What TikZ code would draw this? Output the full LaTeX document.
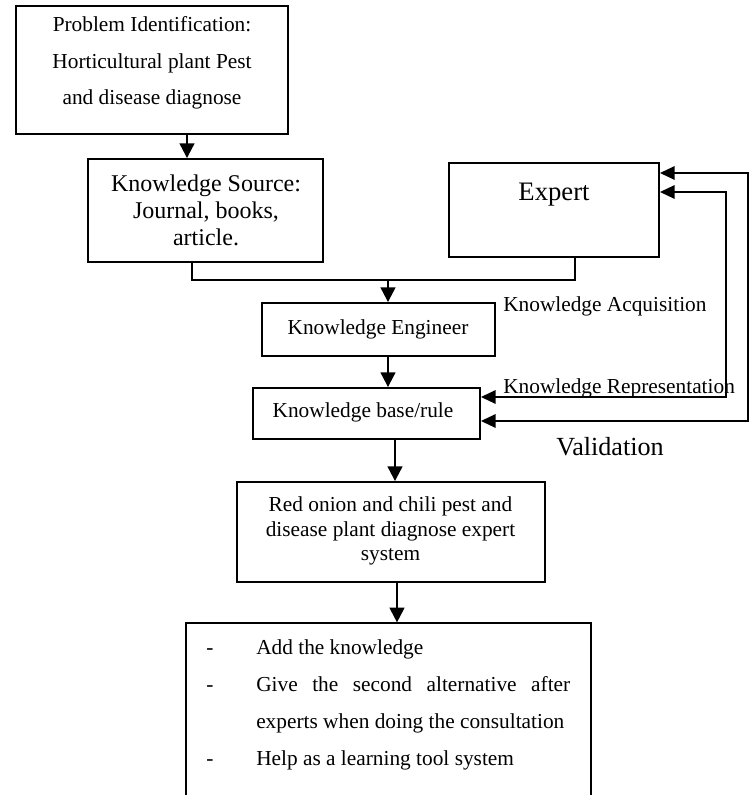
\documentclass[tikz,border=0pt]{standalone}
\usepackage{fontspec}
\setmainfont{Liberation Serif}
\usetikzlibrary{arrows.meta}
\begin{document}
\begin{tikzpicture}[x=0.75pt,y=-0.75pt,
  box/.style={draw, line width=1.4pt, rectangle, inner sep=0pt},
  lbl/.style={inner sep=0pt, font=\fontsize{16pt}{19pt}\selectfont},
  big/.style={inner sep=0pt, font=\fontsize{18pt}{21pt}\selectfont},
  huge/.style={inner sep=0pt, font=\fontsize{19.6pt}{23pt}\selectfont},
  arr/.style={line width=1.6pt, -{Triangle[length=11pt,width=11pt]}},
  conn/.style={line width=1.4pt},
  twoway/.style={line width=1.5pt, {Triangle[length=11pt,width=10pt]}-{Triangle[length=11pt,width=10pt]}}]

\useasboundingbox (0,0) rectangle (754,795);

% boxes
\node[box, minimum width=204pt, minimum height=96pt] (b1) at (152,70) {};
\node[box, minimum width=176.25pt, minimum height=77.25pt] (b2) at (205.5,210.5) {};
\node[box, minimum width=157.5pt, minimum height=70.5pt] (exp) at (554,210) {};
\node[box, minimum width=174.75pt, minimum height=39.75pt] (ke) at (378.5,329.5) {};
\node[box, minimum width=170.25pt, minimum height=38.25pt] (kb) at (366.5,413.5) {};
\node[box, minimum width=231pt, minimum height=75pt] (ro) at (391,532) {};
\node[box, minimum width=303.75pt, minimum height=160pt] (bot) at (388.5,730) {};

% texts in boxes
\node[lbl, anchor=base] (b1t1) at (152,31.7) {Problem Identification:};
\node[lbl, anchor=base] (b1t2) at (152,68.3) {Horticultural plant Pest};
\node[lbl, anchor=base] (b1t3) at (152,105) {and disease diagnose};

\node[big, anchor=base] (b2t1) at (206,191.7) {Knowledge Source:};
\node[big, anchor=base] (b2t2) at (206,218.5) {Journal, books,};
\node[big, anchor=base] (b2t3) at (206,245.5) {article.};

\node[huge, font=\fontsize{20pt}{23pt}\selectfont, anchor=base] (expt) at (554,200) {Expert};

\node[lbl, anchor=base] (ket) at (378,334.3) {Knowledge Engineer};
\node[lbl, anchor=base] (kbt) at (363,417.7) {Knowledge base/rule};

\node[lbl, anchor=base] (rot1) at (390.5,511.7) {Red onion and chili pest and};
\node[lbl, anchor=base] (rot2) at (390.5,536.7) {disease plant diagnose expert};
\node[lbl, anchor=base] (rot3) at (390.5,560.7) {system};

\node[lbl, anchor=base] (d1) at (210,654.3) {-};
\node[lbl, anchor=base] (d2) at (210,691) {-};
\node[lbl, anchor=base] (d4) at (210,765) {-};
\node[lbl, anchor=base west] (bt1) at (256,654.3) {Add the knowledge};
\node[lbl, anchor=base west] (bt2) at (256,691) {\makebox[235.5pt][s]{Give the second alternative after}};
\node[lbl, anchor=base west] (bt3) at (256,728.3) {experts when doing the consultation};
\node[lbl, anchor=base west] (bt4) at (256,765) {Help as a learning tool system};

% free labels
\node[lbl, anchor=base west] (lacq) at (503,311.7) {Knowledge Acquisition};
\node[lbl, anchor=base west] (lrep) at (503,393) {Knowledge Representation};
\node[huge, anchor=base west] (lval) at (556,455) {Validation};

% helper coordinates
\coordinate (x1) at (187,0);
\coordinate (x2) at (192,0);
\coordinate (j) at (388,280);
\coordinate (x3) at (575,0);
\coordinate (x4) at (395,0);
\coordinate (x5) at (397,0);

% connectors
\draw[arr] (b1.south -| x1) -- (b2.north -| x1);
\draw[conn] (b2.south -| x2) |- (j);
\draw[conn] (exp.south -| x3) |- (j);
\draw[arr] (j) -- (ke.north -| j);
\draw[arr] (ke.south -| j) -- (kb.north -| j);
\draw[arr] (kb.south -| x4) -- (ro.north -| x4);
\draw[arr] (ro.south -| x5) -- (bot.north -| x5);

\draw[twoway] (exp.east |- 0,192) -- (726,192) -- (726,397) -- (kb.east |- 0,397);
\draw[twoway] (exp.east |- 0,173) -- (748,173) -- (748,421) -- (kb.east |- 0,421);

\end{tikzpicture}
\end{document}
